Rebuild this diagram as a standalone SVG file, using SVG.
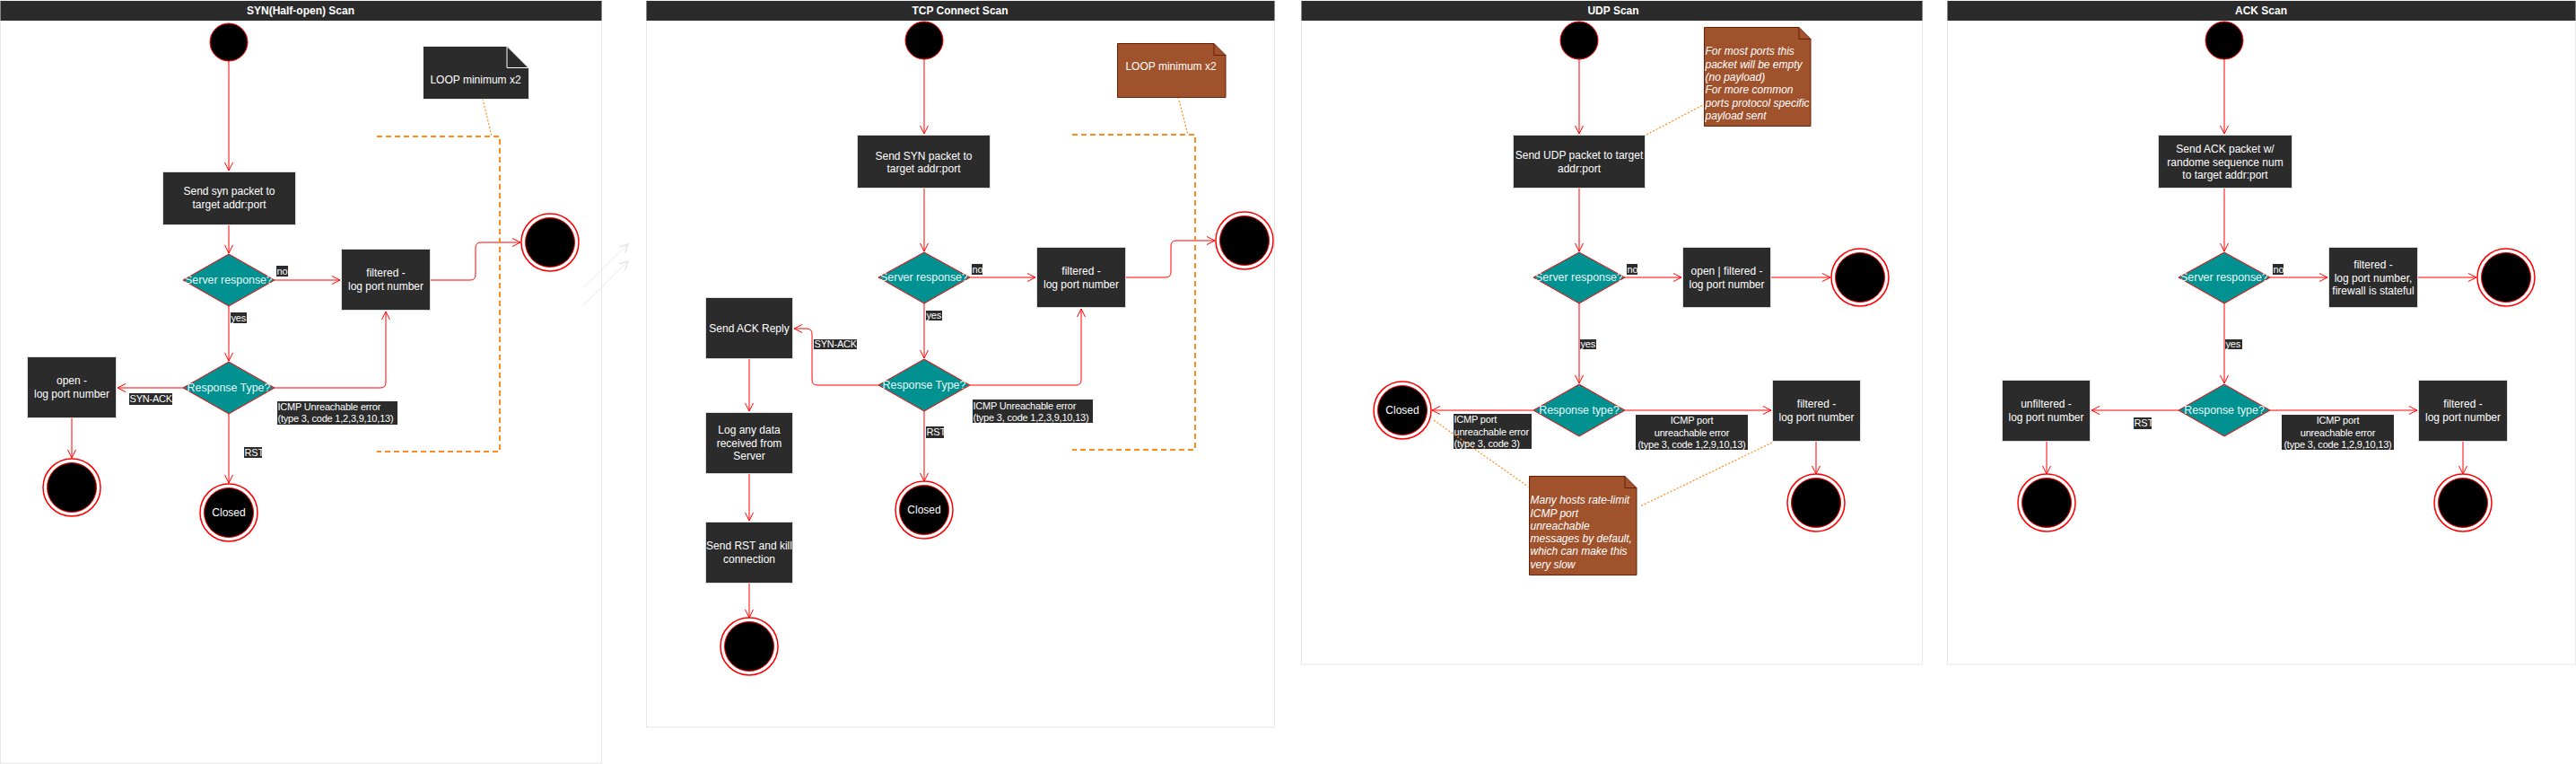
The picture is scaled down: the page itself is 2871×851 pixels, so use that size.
<svg xmlns="http://www.w3.org/2000/svg" width="2871" height="851" viewBox="0 0 2871 851">
<style>
text{font-family:"Liberation Sans",Arial,sans-serif}
.panel{fill:#fff;stroke:#e6e6e6;stroke-width:1}
.tbar{fill:#2b2b2b}
.tt{font-size:12px;font-weight:bold;fill:#fff;text-anchor:middle}
.box{fill:#2b2b2b;stroke:#dcdcdc;stroke-width:1}
.bt{font-size:12px;fill:#fff;text-anchor:middle}
.dia{fill:#009190;stroke:#f00;stroke-width:1}
.dt{font-size:12.4px;fill:#e6f6f6;text-anchor:middle}
.lbl{fill:#2b2b2b}
.lt{font-size:11px;fill:#fff;letter-spacing:-0.2px}
.ltc{font-size:11px;fill:#fff;letter-spacing:-0.2px;text-anchor:middle}
.start{fill:#000;stroke:#f00;stroke-width:1}
.endo{fill:#fff;stroke:#f00;stroke-width:1.5}
.endi{fill:#000;stroke:#f00;stroke-width:1}
.ct{font-size:12px;fill:#fff;text-anchor:middle}
.edge{fill:none;stroke:#f00;stroke-width:1;marker-end:url(#arr)}
.loop{fill:none;stroke:#ff8c1a;stroke-width:2;stroke-dasharray:6 4}
.dot{fill:none;stroke:#ff8c1a;stroke-width:1.2;stroke-dasharray:2 2}
.ndark{fill:#2b2b2b;stroke:#eeeeee;stroke-width:1}
.nbrown{fill:#a0522d;stroke:#6b1e00;stroke-width:1}
.nt{font-size:12px;fill:#fff;text-anchor:middle}
.ni{font-size:12px;fill:#fff;font-style:italic}
.faint{fill:none;stroke:#ebebeb;stroke-width:1;marker-end:url(#farr)}
</style>
<defs>
<marker id="arr" markerWidth="12" markerHeight="12" viewBox="-10 -6 12 12" refX="0" refY="0" orient="auto" markerUnits="userSpaceOnUse"><path d="M-9,-4.5 L0,0 L-9,4.5" fill="none" stroke="#f00" stroke-width="1"/></marker>
<marker id="farr" markerWidth="12" markerHeight="12" viewBox="-10 -6 12 12" refX="0" refY="0" orient="auto" markerUnits="userSpaceOnUse"><path d="M-9,-4.5 L0,0 L-9,4.5" fill="none" stroke="#e6e6e6" stroke-width="1.5"/></marker>
</defs>
<rect x="0" y="0" width="2871" height="851" fill="#fff"/>

<!-- Panels -->
<g id="panel-syn">
<rect class="panel" x="0.5" y="1" width="670" height="849"/>
<rect class="tbar" x="0.5" y="1" width="670" height="22"/>
<text class="tt" x="335" y="16">SYN(Half-open) Scan</text>
</g>
<g id="panel-tcp">
<rect class="panel" x="720.5" y="1" width="700" height="809"/>
<rect class="tbar" x="720.5" y="1" width="700" height="22"/>
<text class="tt" x="1070" y="16">TCP Connect Scan</text>
</g>
<g id="panel-udp">
<rect class="panel" x="1450.5" y="1" width="692" height="739"/>
<rect class="tbar" x="1450.5" y="1" width="692" height="22"/>
<text class="tt" x="1798" y="16">UDP Scan</text>
</g>
<g id="panel-ack">
<rect class="panel" x="2170.5" y="1" width="700" height="739"/>
<rect class="tbar" x="2170.5" y="1" width="700" height="22"/>
<text class="tt" x="2520" y="16">ACK Scan</text>
</g>

<!-- Connectors -->
<g id="connectors">
<!-- panel 1 -->
<path class="edge" d="M255,68 L255,190"/>
<path class="edge" d="M255,250 L255,282"/>
<path class="edge" d="M306,312 L379,312"/>
<path class="edge" d="M480,312 H524 Q530,312 530,306 V276 Q530,270 536,270 H580"/>
<path class="edge" d="M255,341 L255,402"/>
<path class="edge" d="M204,432 L131,432"/>
<path class="edge" d="M80,466 L80,510"/>
<path class="edge" d="M306,432 H424 Q430,432 430,426 V347"/>
<path class="edge" d="M255,461 L255,538"/>
<path class="faint" d="M650,320 L700,272"/>
<path class="faint" d="M650,340 L700,291"/>
<!-- panel 2 -->
<path class="edge" d="M1030,66 L1030,149"/>
<path class="edge" d="M1030,210 L1030,280"/>
<path class="edge" d="M1081,309 L1154,309"/>
<path class="edge" d="M1255,309 H1299 Q1305,309 1305,303 V274 Q1305,268 1311,268 H1354"/>
<path class="edge" d="M1030,338 L1030,399"/>
<path class="edge" d="M979,429 H911 Q905,429 905,423 V372 Q905,366 899,366 H885"/>
<path class="edge" d="M1081,429 H1199 Q1205,429 1205,423 V344"/>
<path class="edge" d="M1030,458 L1030,536"/>
<path class="edge" d="M835,400 L835,458"/>
<path class="edge" d="M835,528 L835,580"/>
<path class="edge" d="M835,650 L835,688"/>
<!-- panel 3 -->
<path class="edge" d="M1760,66 L1760,149"/>
<path class="edge" d="M1760,210 L1760,280"/>
<path class="edge" d="M1811,309 L1874,309"/>
<path class="edge" d="M1974,309 L2040,309"/>
<path class="edge" d="M1760,338 L1760,427"/>
<path class="edge" d="M1709,457 L1596,457"/>
<path class="edge" d="M1811,457 L1974,457"/>
<path class="edge" d="M2024,492 L2024,528"/>
<!-- panel 4 -->
<path class="edge" d="M2479,66 L2479,149"/>
<path class="edge" d="M2479,210 L2479,280"/>
<path class="edge" d="M2530,309 L2594,309"/>
<path class="edge" d="M2695,309 L2760,309"/>
<path class="edge" d="M2479,338 L2479,427"/>
<path class="edge" d="M2428,457 L2331,457"/>
<path class="edge" d="M2530,457 L2694,457"/>
<path class="edge" d="M2281,492 L2281,528"/>
<path class="edge" d="M2745,492 L2745,528"/>
</g>

<!-- ================= Panel 1 nodes ================= -->
<g id="p1-start"><circle class="start" cx="255" cy="47" r="21"/></g>
<g id="p1-send"><rect class="box" x="181.5" y="191.5" width="148" height="59"/>
<text class="bt" x="255.5" y="217">Send syn packet to</text><text class="bt" x="255.5" y="232">target addr:port</text></g>
<g id="p1-server"><polygon class="dia" points="255,283 306,312 255,341 204,312"/><text class="dt" x="255" y="316">Server response?</text></g>
<g id="p1-filtered"><rect class="box" x="380.5" y="277.5" width="99" height="68"/>
<text class="bt" x="430" y="308">filtered -</text><text class="bt" x="430" y="323">log port number</text></g>
<g id="p1-end1"><circle class="endo" cx="613" cy="270" r="32"/><circle class="endi" cx="613" cy="270" r="27.5"/></g>
<g id="p1-resp"><polygon class="dia" points="255,403 306,432 255,461 204,432"/><text class="dt" x="255" y="436">Response Type?</text></g>
<g id="p1-open"><rect class="box" x="30.5" y="397.5" width="99" height="68"/>
<text class="bt" x="80" y="428">open -</text><text class="bt" x="80" y="443">log port number</text></g>
<g id="p1-end2"><circle class="endo" cx="80" cy="543" r="32"/><circle class="endi" cx="80" cy="543" r="27.5"/></g>
<g id="p1-closed"><circle class="endo" cx="255" cy="571" r="32"/><circle class="endi" cx="255" cy="571" r="27.5"/><text class="ct" x="255" y="575">Closed</text></g>
<g id="p1-labels">
<rect class="lbl" x="308" y="296" width="13" height="12"/><text class="lt" x="308.5" y="306">no</text>
<rect class="lbl" x="257" y="348" width="18" height="12"/><text class="lt" x="257.5" y="358">yes</text>
<rect class="lbl" x="144" y="438" width="48" height="13"/><text class="lt" x="144.5" y="448">SYN-ACK</text>
<rect class="lbl" x="309" y="447" width="134" height="26"/><text class="lt" x="309.5" y="457">ICMP Unreachable error</text><text class="lt" x="309.5" y="470">(type 3, code 1,2,3,9,10,13)</text>
<rect class="lbl" x="272" y="498" width="20" height="12"/><text class="lt" x="272.5" y="508">RST</text>
</g>
<g id="p1-loop"><path class="loop" d="M420,152 H557 V503 H420"/><path class="dot" d="M538,110 L548,152"/></g>
<g id="p1-note"><path class="ndark" d="M471.5,51.5 H565 L589.5,76 V110.5 H471.5 Z"/><path d="M565,51.5 V75.5 H589.5" fill="none" stroke="#fff" stroke-width="1"/>
<text class="nt" x="530" y="93">LOOP minimum x2</text></g>

<!-- ================= Panel 2 nodes ================= -->
<g id="p2-start"><circle class="start" cx="1030" cy="45" r="21"/></g>
<g id="p2-send"><rect class="box" x="955.5" y="150.5" width="148" height="59"/>
<text class="bt" x="1029.5" y="178">Send SYN packet to</text><text class="bt" x="1029.5" y="192">target addr:port</text></g>
<g id="p2-server"><polygon class="dia" points="1030,281 1081,309 1030,338 979,309"/><text class="dt" x="1030" y="313">Server response?</text></g>
<g id="p2-filtered"><rect class="box" x="1155.5" y="275.5" width="99" height="67"/>
<text class="bt" x="1205" y="306">filtered -</text><text class="bt" x="1205" y="321">log port number</text></g>
<g id="p2-end1"><circle class="endo" cx="1387" cy="268" r="32"/><circle class="endi" cx="1387" cy="268" r="27.5"/></g>
<g id="p2-resp"><polygon class="dia" points="1030,400 1081,429 1030,458 979,429"/><text class="dt" x="1030" y="433">Response Type?</text></g>
<g id="p2-ack"><rect class="box" x="786.5" y="331.5" width="97" height="68"/><text class="bt" x="835" y="370">Send ACK Reply</text></g>
<g id="p2-log"><rect class="box" x="786.5" y="459.5" width="97" height="68"/>
<text class="bt" x="835" y="483">Log any data</text><text class="bt" x="835" y="498">received from</text><text class="bt" x="835" y="512">Server</text></g>
<g id="p2-rst"><rect class="box" x="786.5" y="581.5" width="97" height="68"/>
<text class="bt" x="835" y="612">Send RST and kill</text><text class="bt" x="835" y="627">connection</text></g>
<g id="p2-end2"><circle class="endo" cx="835" cy="720" r="32"/><circle class="endi" cx="835" cy="720" r="27.5"/></g>
<g id="p2-closed"><circle class="endo" cx="1030" cy="568" r="32"/><circle class="endi" cx="1030" cy="568" r="27.5"/><text class="ct" x="1030" y="572">Closed</text></g>
<g id="p2-labels">
<rect class="lbl" x="1083" y="294" width="12" height="12"/><text class="lt" x="1083.5" y="304">no</text>
<rect class="lbl" x="1032" y="346" width="18" height="11"/><text class="lt" x="1032.5" y="355">yes</text>
<rect class="lbl" x="907" y="378" width="48" height="11"/><text class="lt" x="907.5" y="387">SYN-ACK</text>
<rect class="lbl" x="1084" y="445" width="134" height="26"/><text class="lt" x="1084.5" y="456">ICMP Unreachable error</text><text class="lt" x="1084.5" y="469">(type 3, code 1,2,3,9,10,13)</text>
<rect class="lbl" x="1032" y="475" width="20" height="13"/><text class="lt" x="1032.5" y="485">RST</text>
</g>
<g id="p2-loop"><path class="loop" d="M1195,150 H1332 V501 H1195"/><path class="dot" d="M1313,108 L1324,150"/></g>
<g id="p2-note"><path class="nbrown" d="M1245.5,48.5 H1353 L1366,61.5 V108.5 H1245.5 Z"/><path d="M1353,48.5 V61.5 H1366" fill="none" stroke="#6b1e00" stroke-width="1"/>
<text class="nt" x="1305" y="78">LOOP minimum x2</text></g>

<!-- ================= Panel 3 nodes ================= -->
<g id="p3-start"><circle class="start" cx="1760" cy="45" r="21"/></g>
<g id="p3-send"><rect class="box" x="1686.5" y="150.5" width="147" height="59"/>
<text class="bt" x="1760" y="177">Send UDP packet to target</text><text class="bt" x="1760" y="192">addr:port</text></g>
<g id="p3-server"><polygon class="dia" points="1760,281 1811,309 1760,338 1709,309"/><text class="dt" x="1760" y="313">Server response?</text></g>
<g id="p3-openf"><rect class="box" x="1875.5" y="275.5" width="98" height="67"/>
<text class="bt" x="1924.5" y="306">open | filtered -</text><text class="bt" x="1924.5" y="321">log port number</text></g>
<g id="p3-end1"><circle class="endo" cx="2073" cy="309" r="32"/><circle class="endi" cx="2073" cy="309" r="27.5"/></g>
<g id="p3-resp"><polygon class="dia" points="1760,428 1811,457 1760,486 1709,457"/><text class="dt" x="1760" y="461">Response type?</text></g>
<g id="p3-closed"><circle class="endo" cx="1563" cy="457" r="32"/><circle class="endi" cx="1563" cy="457" r="27.5"/><text class="ct" x="1563" y="461">Closed</text></g>
<g id="p3-filtered"><rect class="box" x="1975.5" y="423.5" width="98" height="68"/>
<text class="bt" x="2024.5" y="454">filtered -</text><text class="bt" x="2024.5" y="469">log port number</text></g>
<g id="p3-end2"><circle class="endo" cx="2024" cy="560" r="32"/><circle class="endi" cx="2024" cy="560" r="27.5"/></g>
<g id="p3-labels">
<rect class="lbl" x="1813" y="294" width="12" height="12"/><text class="lt" x="1813.5" y="304">no</text>
<rect class="lbl" x="1761" y="378" width="18" height="11"/><text class="lt" x="1761.5" y="387">yes</text>
<rect class="lbl" x="1620" y="461" width="87" height="39"/><text class="lt" x="1620.5" y="471">ICMP port</text><text class="lt" x="1620.5" y="485">unreachable error</text><text class="lt" x="1620.5" y="498">(type 3, code 3)</text>
<rect class="lbl" x="1823" y="462" width="125" height="39"/><text class="ltc" x="1885.5" y="472">ICMP port</text><text class="ltc" x="1885.5" y="486">unreachable error</text><text class="ltc" x="1885.5" y="499">(type 3, code 1,2,9,10,13)</text>
</g>
<g id="p3-note1"><path class="nbrown" d="M1899.5,30.5 H2005 L2018,43.5 V140.5 H1899.5 Z"/><path d="M2005,30.5 V43.5 H2018" fill="none" stroke="#6b1e00" stroke-width="1"/>
<text class="ni" x="1900.5" y="61">For most ports this</text><text class="ni" x="1900.5" y="75.5">packet will be empty</text><text class="ni" x="1900.5" y="90">(no payload)</text><text class="ni" x="1900.5" y="104">For more common</text><text class="ni" x="1900.5" y="119">ports protocol specific</text><text class="ni" x="1900.5" y="133">payload sent</text></g>
<g id="p3-note2"><path class="nbrown" d="M1704.5,530.5 H1811 L1824,543.5 V640.5 H1704.5 Z"/><path d="M1811,530.5 V543.5 H1824" fill="none" stroke="#6b1e00" stroke-width="1"/>
<text class="ni" x="1705.5" y="561">Many hosts rate-limit</text><text class="ni" x="1705.5" y="576">ICMP port</text><text class="ni" x="1705.5" y="590">unreachable</text><text class="ni" x="1705.5" y="604">messages by default,</text><text class="ni" x="1705.5" y="618">which can make this</text><text class="ni" x="1705.5" y="633">very slow</text></g>
<g id="p3-notelinks"><path class="dot" d="M1835,150 L1898,117"/><path class="dot" d="M1598,468 L1703,542"/><path class="dot" d="M1975,493 L1828,564"/></g>

<!-- ================= Panel 4 nodes ================= -->
<g id="p4-start"><circle class="start" cx="2479" cy="45" r="21"/></g>
<g id="p4-send"><rect class="box" x="2405.5" y="150.5" width="149" height="59"/>
<text class="bt" x="2480" y="170">Send ACK packet w/</text><text class="bt" x="2480" y="185">randome sequence num</text><text class="bt" x="2480" y="199">to target addr:port</text></g>
<g id="p4-server"><polygon class="dia" points="2479,281 2530,309 2479,338 2428,309"/><text class="dt" x="2479" y="313">Server response?</text></g>
<g id="p4-filtered1"><rect class="box" x="2595.5" y="275.5" width="99" height="67"/>
<text class="bt" x="2645" y="299">filtered -</text><text class="bt" x="2645" y="314">log port number,</text><text class="bt" x="2645" y="328">firewall is stateful</text></g>
<g id="p4-end1"><circle class="endo" cx="2793" cy="309" r="32"/><circle class="endi" cx="2793" cy="309" r="27.5"/></g>
<g id="p4-resp"><polygon class="dia" points="2479,428 2530,457 2479,486 2428,457"/><text class="dt" x="2479" y="461">Response type?</text></g>
<g id="p4-unfiltered"><rect class="box" x="2231.5" y="423.5" width="98" height="68"/>
<text class="bt" x="2280.5" y="454">unfiltered -</text><text class="bt" x="2280.5" y="469">log port number</text></g>
<g id="p4-filtered2"><rect class="box" x="2695.5" y="423.5" width="99" height="68"/>
<text class="bt" x="2745" y="454">filtered -</text><text class="bt" x="2745" y="469">log port number</text></g>
<g id="p4-end2"><circle class="endo" cx="2281" cy="560" r="32"/><circle class="endi" cx="2281" cy="560" r="27.5"/></g>
<g id="p4-end3"><circle class="endo" cx="2745" cy="560" r="32"/><circle class="endi" cx="2745" cy="560" r="27.5"/></g>
<g id="p4-labels">
<rect class="lbl" x="2533" y="294" width="12" height="12"/><text class="lt" x="2533.5" y="304">no</text>
<rect class="lbl" x="2480" y="378" width="19" height="11"/><text class="lt" x="2480.5" y="387">yes</text>
<rect class="lbl" x="2378" y="465" width="20" height="13"/><text class="lt" x="2378.5" y="475">RST</text>
<rect class="lbl" x="2543" y="462" width="125" height="39"/><text class="ltc" x="2605.5" y="472">ICMP port</text><text class="ltc" x="2605.5" y="486">unreachable error</text><text class="ltc" x="2605.5" y="499">(type 3, code 1,2,9,10,13)</text>
</g>
</svg>
